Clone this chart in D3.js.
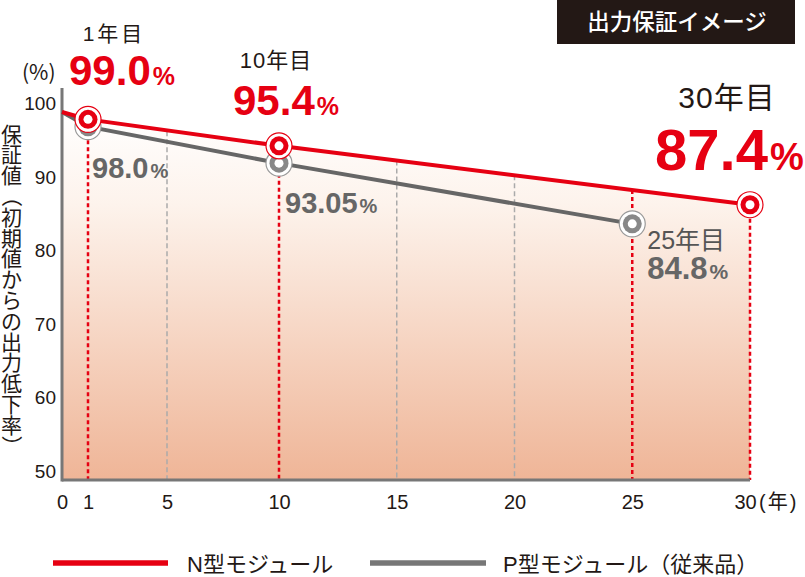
<!DOCTYPE html>
<html><head><meta charset="utf-8">
<script src="https://cdn.jsdelivr.net/npm/d3@7"></script>
<style>
body{margin:0;background:#fff}
svg{display:block}
text{font-family:"Liberation Sans","Noto Sans CJK JP",sans-serif}
</style>
</head><body>
<svg id="c" width="805" height="577"></svg>
<script>
// ---- data ----
const nYears = [0, 1, 10, 30];
const nValues = [100, 99.0, 95.4, 87.4];
const pYears = [0, 1, 10, 25];
const pValues = [100, 98.0, 93.05, 84.8];
const xTicks = [0, 1, 5, 10, 15, 20, 25, 30];
const yTicks = [50, 60, 70, 80, 90, 100];
const guideYears = [5, 15, 20];
const markYears = [1, 10, 25, 30];
const nMarkYears = [1, 10, 30];
const pMarkYears = [1, 10, 25];
const seriesNames = ["N型モジュール", "P型モジュール（従来品）"];
const title = "出力保証イメージ";
const yTitle = "保証値（初期値からの出力低下率）";
const xUnit = "(年)";
const yUnit = "(%)";

// ---- layout ----
const RED = "#e60012", GRAY = "#666666", GRAYM = "#888888", DARK = "#231815";
const svg = d3.select("#c");
const x = d3.scaleLinear().domain([0, 1, 5, 10, 30]).range([62, 88, 167, 279, 750]);
const y = d3.scaleLinear().domain([50, 100]).range([480, 112]);

const nData = nYears.map((d, i) => ({ x: d, v: nValues[i] }));
const pData = pYears.map((d, i) => ({ x: d, v: pValues[i] }));
const nAt = yr => {
  for (let i = 1; i < nData.length; i++) {
    if (yr <= nData[i].x) {
      const a = nData[i - 1], b = nData[i], t = (yr - a.x) / (b.x - a.x);
      return a.v + t * (b.v - a.v);
    }
  }
  return nData[nData.length - 1].v;
};

// gradient background
const defs = svg.append("defs");
const g = defs.append("linearGradient").attr("id", "bg")
  .attr("gradientUnits", "userSpaceOnUse").attr("x1", 0).attr("x2", 0)
  .attr("y1", y(100)).attr("y2", y(50));
g.append("stop").attr("offset", 0).attr("stop-color", "#ffffff");
g.append("stop").attr("offset", 0.25).attr("stop-color", "#fdf3ec");
g.append("stop").attr("offset", 1).attr("stop-color", "#efb597");
const area = d3.area().x(d => x(d.x)).y0(y(50)).y1(d => y(d.v));
svg.append("path").datum(nData).attr("d", area).attr("fill", "url(#bg)");

// gray dashed guides
svg.selectAll("line.guide").data(guideYears).join("line")
  .attr("x1", d => x(d)).attr("x2", d => x(d))
  .attr("y1", d => y(nAt(d))).attr("y2", y(50))
  .attr("stroke", "#aaaaaa").attr("stroke-width", 1.5).attr("stroke-dasharray", "5,3");

// red dotted guides
svg.selectAll("line.mark").data(markYears).join("line")
  .attr("x1", d => x(d)).attr("x2", d => x(d))
  .attr("y1", d => y(nAt(d))).attr("y2", y(50))
  .attr("stroke", RED).attr("stroke-width", 2.5).attr("stroke-dasharray", "4,3");

// axes lines
svg.append("line").attr("x1", x(0)).attr("x2", x(0)).attr("y1", 88).attr("y2", y(50) + 1.5)
  .attr("stroke", "#777").attr("stroke-width", 3);
svg.append("line").attr("x1", x(0)).attr("x2", x(30)).attr("y1", y(50)).attr("y2", y(50))
  .attr("stroke", "#777").attr("stroke-width", 3);

// lines
const line = d3.line().x(d => x(d.x)).y(d => y(d.v));
svg.append("path").datum(pData).attr("d", line).attr("fill", "none")
  .attr("stroke", GRAY).attr("stroke-width", 4);
svg.append("path").datum(nData).attr("d", line).attr("fill", "none")
  .attr("stroke", RED).attr("stroke-width", 4);

// markers
function markers(data, yrs, color, ring) {
  const pts = data.filter(d => yrs.includes(d.x));
  const gg = svg.append("g").selectAll("g").data(pts).join("g")
    .attr("transform", d => `translate(${x(d.x)},${y(d.v)})`);
  gg.append("circle").attr("r", 13).attr("fill", "#fff").attr("stroke", ring).attr("stroke-width", 1.2);
  gg.append("circle").attr("r", 9.5).attr("fill", color);
  gg.append("circle").attr("r", 4.5).attr("fill", "#fff");
}
markers(pData, pMarkYears, GRAYM, "#999");
markers(nData, nMarkYears, RED, RED);

// axis tick labels
const xa = svg.append("g").attr("transform", `translate(0,${y(50)})`)
  .call(d3.axisBottom(x).tickValues(xTicks).tickSize(0).tickPadding(0));
xa.select(".domain").remove();
xa.selectAll("text").attr("y", 29).attr("dy", 0).attr("font-size", 20)
  .attr("fill", DARK).style("font-family", '"Liberation Sans",sans-serif')
  .attr("dx", d => d === 30 ? -5 : 0);
svg.append("text").attr("x", x(30) + 9).attr("y", y(50) + 29).attr("font-size", 20)
  .attr("letter-spacing", 2).attr("fill", DARK).text(xUnit);

const ya = svg.append("g").attr("transform", `translate(${x(0)},0)`)
  .call(d3.axisLeft(y).tickValues(yTicks).tickSize(0).tickPadding(6));
ya.select(".domain").remove();
ya.selectAll("text").attr("dy", 0).attr("y", -2.5).attr("font-size", 19)
  .attr("fill", DARK).style("font-family", '"Liberation Sans",sans-serif');

svg.append("text").attr("x", 22).attr("y", 80).attr("font-size", 21)
  .attr("fill", DARK).style("font-family", '"Noto Sans CJK JP",sans-serif').text(yUnit);

// y title (vertical, one glyph per cell)
const ySize = 21, yStep = 20.8, yTop = 134, yCx = 11.5;
const yt = svg.append("g").attr("font-size", ySize).attr("fill", DARK)
  .style("font-family", '"Noto Sans CJK JP",sans-serif');
Array.from(yTitle).forEach((ch, i) => {
  const cy = yTop + i * yStep;
  const t = yt.append("text").attr("x", yCx).attr("y", cy + ySize * 0.36)
    .attr("text-anchor", "middle").text(ch);
  if (ch === "（" || ch === "）") t.attr("transform", `rotate(90,${yCx},${cy})`);
});

// title box
svg.append("rect").attr("x", 557).attr("y", 0).attr("width", 238).attr("height", 44).attr("fill", DARK);
svg.append("text").attr("x", 677).attr("y", 30).attr("text-anchor", "middle")
  .attr("font-size", 22.5).attr("font-weight", 500).attr("fill", "#fff")
  .style("font-family", '"Noto Sans CJK JP",sans-serif').text(title);

// annotations
function yearLabel(text, px, py, size, color, anchor, ls) {
  svg.append("text").attr("x", px).attr("y", py).attr("font-size", size)
    .attr("letter-spacing", ls || 0)
    .attr("text-anchor", anchor).attr("fill", color).text(text);
}
function valLabel(val, px, py, size, psize, color) {
  const t = svg.append("text").attr("x", px).attr("y", py).attr("fill", color)
    .attr("font-weight", "bold");
  t.append("tspan").attr("font-size", size).text(val.toFixed(val === 93.05 ? 2 : 1));
  t.append("tspan").attr("font-size", psize).attr("dx", 2).text("%");
}
yearLabel("1年目", x(1) + 26, 41, 21, DARK, "middle", 3);
valLabel(nValues[1], x(1) - 19, 85, 42, 25, RED);
yearLabel("10年目", x(10) - 3, 68, 22, DARK, "middle", 1);
valLabel(nValues[2], x(10) - 46, 115, 42, 25, RED);
yearLabel("30年目", x(30) - 23, 108, 30, DARK, "middle", 1);
valLabel(nValues[3], x(30) - 95, 170, 58, 38, RED);

valLabel(pValues[1], x(1) + 4, 178, 29, 20, GRAY);
valLabel(pValues[2], x(10) + 6, 213, 29, 20, GRAY);
yearLabel("25年目", x(25) + 15, 249, 25, "#555", "start", 0);
valLabel(pValues[3], x(25) + 15, 279, 31, 21, GRAY);

// legend
svg.append("line").attr("x1", 53).attr("x2", 168).attr("y1", 563).attr("y2", 563)
  .attr("stroke", RED).attr("stroke-width", 5.5);
svg.append("text").attr("x", 187).attr("y", 572).attr("font-size", 22).attr("fill", DARK).text(seriesNames[0]);
svg.append("line").attr("x1", 370).attr("x2", 486).attr("y1", 563).attr("y2", 563)
  .attr("stroke", "#777").attr("stroke-width", 5.5);
svg.append("text").attr("x", 503).attr("y", 572).attr("font-size", 22).attr("fill", DARK).text(seriesNames[1]);
</script>
</body></html>
